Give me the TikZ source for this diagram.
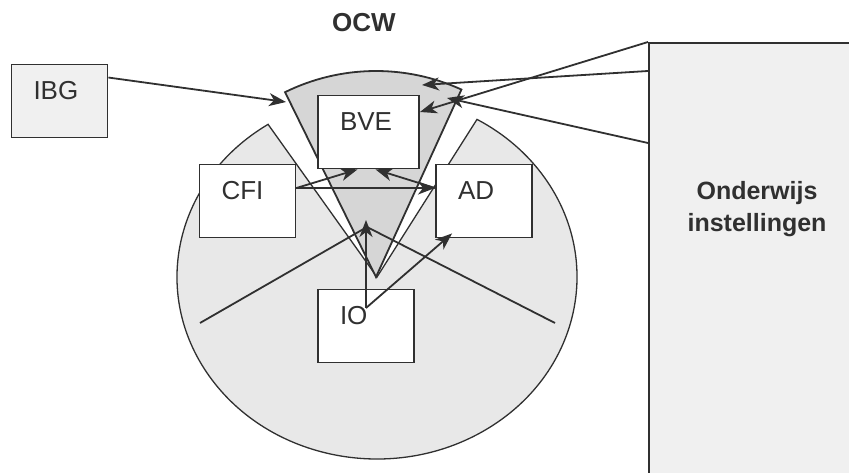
\documentclass[tikz,border=0pt]{standalone}
\usepackage{fontspec}
\setmainfont{Liberation Sans}
\usetikzlibrary{calc}
\usetikzlibrary{arrows.meta}

\definecolor{pielight}{HTML}{E8E8E8}
\definecolor{piedark}{HTML}{D6D6D6}
\definecolor{boxgrey}{HTML}{F0F0F0}
\definecolor{inkgrey}{HTML}{303030}

\begin{document}
\begin{tikzpicture}[x=1pt,y=1pt,
        unit/.style={draw=inkgrey,line width=1.9pt,fill=white,inner xsep=22pt,inner ysep=0pt,
            text width=52pt,align=left,text height=35pt,text depth=38pt,
            font=\fontsize{26}{30}\selectfont,text=inkgrey},
        link/.style={draw=inkgrey,line width=1.8pt,-{Stealth[length=17pt,width=13pt,inset=5pt]}}]
                \useasboundingbox (0,0) rectangle (849,473);
                \clip (0,0) rectangle (849,473);

                \coordinate (C) at (377,196);
                \coordinate (A) at (376,196);
                \filldraw[fill=pielight,draw=inkgrey,line width=1.3pt] (C) -- ++(123:200 and 182)
                    arc[start angle=123,end angle=420,x radius=200,y radius=182] -- cycle;
                \filldraw[fill=piedark,draw=inkgrey,line width=1.8pt] (A) -- ++(65.5:206)
                    arc[start angle=65.5,end angle=116.2,radius=206] -- cycle;

                \coordinate (vl) at (200,150);
                \coordinate (vtop) at (367,246);
                \coordinate (vr) at (555,150);
                \draw[inkgrey,line width=1.8pt] (vl) -- (vtop) -- (vr);

                \node (ibg) [unit,fill=boxgrey] at (59.5,372) {IBG};
                \node (bve) [unit,text width=57pt] at (368.5,341) {BVE};
                \node (cfi) [unit] at (247.5,272) {CFI};
                \node (ad) [unit] at (484,272) {AD};
                \node (io) [unit] at (366,147) {IO};

                \node (ow) [draw=inkgrey,line width=1.9pt,fill=boxgrey,minimum width=230pt,
                    minimum height=450pt,anchor=north west] at (648,431) {};
                \node (owtext) [font=\fontsize{25}{32}\selectfont\bfseries,text=inkgrey,align=center]
                    at (757,264) {Onderwijs\\instellingen};
                \node (ocw) [font=\fontsize{26}{30}\selectfont\bfseries,text=inkgrey] at (364,450) {OCW};

                \coordinate (ibgtip) at (286,371);
                \coordinate (iotip) at (366,253);
                \coordinate (owtipa) at (422,388);
                \coordinate (owtipc) at (447,375);

                \draw[link] ([yshift=-14pt]ibg.north east) -- (ibgtip);
                \draw[link] ([yshift=13pt]cfi.east) -- ([xshift=-11pt]bve.south);
                \draw[link] ([yshift=13pt]cfi.east) -- ([yshift=13pt]ad.west);
                \draw[link] ([yshift=13pt]ad.west) -- ([xshift=7pt]bve.south);
                \draw[link] ([yshift=18pt]io.center) -- (iotip);
                \draw[link] ([yshift=18pt]io.center) -- ([shift={(17pt,5pt)}]ad.south west);
                \draw[link] ([yshift=-29pt]ow.north west) -- (owtipa);
                \draw[link] (ow.north west) -- ([yshift=20pt]bve.east);
                \draw[link] ([yshift=-101pt]ow.north west) -- (owtipc);
            \end{tikzpicture}
\end{document}
